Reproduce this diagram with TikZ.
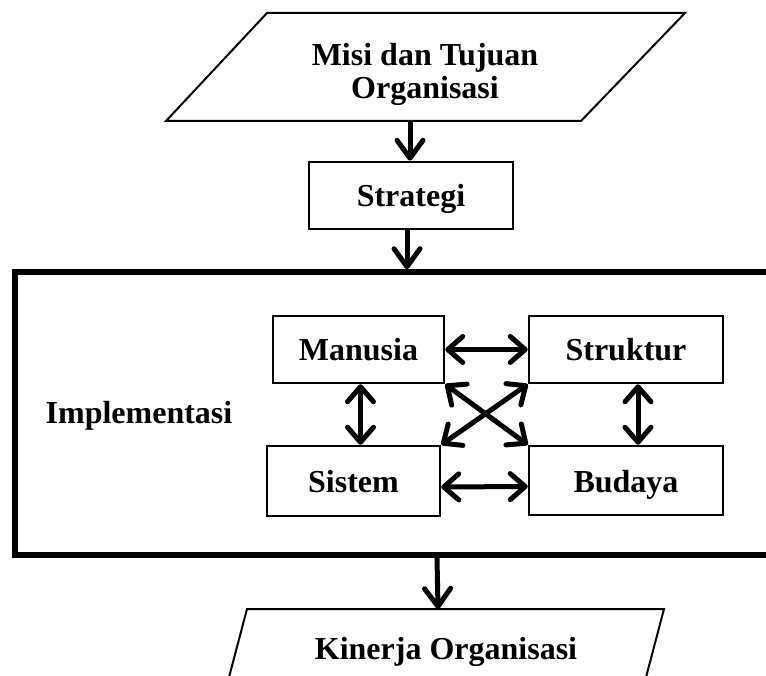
\documentclass[tikz,border=0pt]{standalone}
\usepackage{fontspec}
\setmainfont{Liberation Serif}
\usetikzlibrary{arrows.meta,calc}
\begin{document}
\begin{tikzpicture}[x=1pt,y=-1pt,
 lbl/.style={font=\bfseries\fontsize{32}{33}\selectfont},
 box/.style={draw,line width=2.5pt,inner sep=0pt,minimum height=67pt,text height=23pt,text depth=0pt,lbl},
 para/.style={draw,line width=2pt,line join=miter},
 frm/.style={draw,line width=5.5pt,inner sep=0pt},
 arr/.style={line width=5pt,-{Straight Barb[round,length=18pt,width=26pt]}},
 darr/.style={line width=5pt,{Straight Barb[round,length=15pt,width=26pt]}-{Straight Barb[round,length=15pt,width=26pt]}}]
\useasboundingbox (0,0) rectangle (766,676);
\clip (0,0) rectangle (766,676);
% top parallelogram
\draw[para] (166,121) -- (267,13) -- (685,13) -- (581,121) -- cycle;
\node[lbl,align=center] (misi) at (425,74) {Misi dan Tujuan\\Organisasi};
\coordinate (misiB) at (410,121);
% strategi
\node[box,minimum width=204pt] (strat) at (411,195.5) {Strategi};
% frame
\node[frm,minimum width=785pt,minimum height=283pt] (frame) at (407.5,413.5) {};
\node[lbl,anchor=base] (impl) at (139,423) {Implementasi};
% inner boxes
\node[box,minimum width=171pt] (man) at (358.5,349.5) {Manusia};
\node[box,minimum width=194pt] (str) at (626,349.5) {Struktur};
\node[box,minimum width=173pt,minimum height=70pt] (sis) at (353.5,481) {Sistem};
\node[box,minimum width=194pt,minimum height=69pt] (bud) at (626,480.5) {Budaya};
% bottom parallelogram
\draw[para] (223,700) -- (247,609) -- (664,609) -- (640,700);
\node[lbl,anchor=base] (kin) at (446,659) {Kinerja Organisasi};
\coordinate (kinT) at (438,609);
% arrows
\draw[arr] (misiB) -- (misiB |- strat.north);
\coordinate (sA) at ([xshift=-4pt]strat.south);
\draw[arr] (sA) -- (sA |- frame.north);
\coordinate (fB) at (437,0);
\draw[arr] (fB |- frame.south) -- (kinT);
\draw[darr] (man.east) -- (str.west);
\draw[darr] ([yshift=-6pt]sis.east) -- ([yshift=-6pt]bud.west);
\coordinate (mS) at ([xshift=2pt]man.south);
\draw[darr] (mS) -- (mS |- sis.north);
\coordinate (sS) at ([xshift=12pt]str.south);
\draw[darr] (sS) -- (sS |- bud.north);
\draw[darr] (man.south east) -- (bud.north west);
\draw[darr] (str.south west) -- (sis.north east);
\end{tikzpicture}
\end{document}
